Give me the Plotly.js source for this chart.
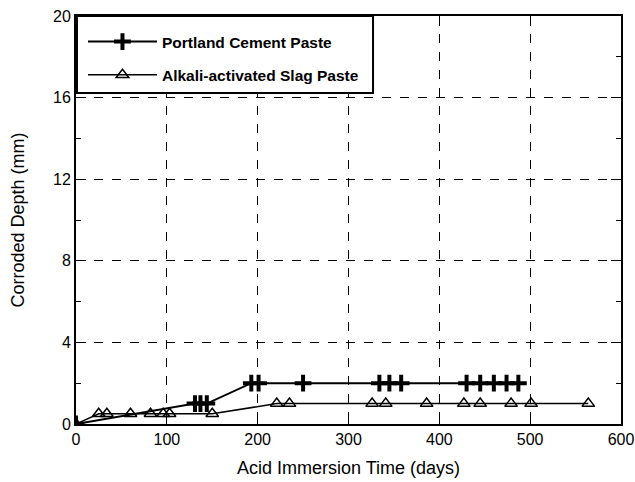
<!DOCTYPE html>
<html>
<head>
<script src="https://cdn.plot.ly/plotly-3.0.1.min.js"></script>
<style>body{margin:0;padding:0;background:#fff;}#chart{width:635px;height:482px;}</style>
</head>
<body>
<div id="chart"></div>
<script>
const portlandDays = [0, 131, 137, 144, 193, 201, 250, 334, 345, 358, 430, 445, 460, 474, 487];
const portlandDepth = [0, 1, 1, 1, 2, 2, 2, 2, 2, 2, 2, 2, 2, 2, 2];
const slagDays = [0, 25, 34, 60, 82, 96, 103, 150, 221, 235, 326, 341, 386, 427, 445, 479, 501, 564];
const slagDepth = [0, 0.5, 0.5, 0.5, 0.5, 0.5, 0.5, 0.5, 1, 1, 1, 1, 1, 1, 1, 1, 1, 1];
const seriesNames = ['Portland Cement Paste', 'Alkali-activated Slag Paste'];
const xTicks = [0, 100, 200, 300, 400, 500, 600];
const yTicks = [0, 4, 8, 12, 16, 20];

const FONT = 'Liberation Sans, Arial, sans-serif';

const traces = [
  {x: portlandDays, y: portlandDepth, name: seriesNames[0], mode: 'lines+markers', legendgroup: 'a',
   line: {color: '#000', width: 2},
   marker: {symbol: 'cross-thin', size: 12, color: '#000', line: {color: '#000', width: 4}}},
  {x: slagDays, y: slagDepth, name: seriesNames[1], mode: 'lines+markers', legendgroup: 'b',
   line: {color: '#000', width: 1.5},
   marker: {symbol: 'triangle-up-open', size: 11, color: '#000', line: {color: '#000', width: 1.5}}}
];

const axisCommon = {
  showline: true, linecolor: '#000', linewidth: 2, mirror: 'ticks',
  showgrid: true, gridcolor: '#000', griddash: 'dash', gridwidth: 1,
  zeroline: false, ticks: 'inside', ticklen: 10, tickwidth: 1, tickcolor: '#000',
  tickfont: {family: FONT, size: 16, color: '#000'}
};

const layout = {
  width: 635, height: 482,
  margin: {l: 76, r: 14, t: 16, b: 58},
  paper_bgcolor: '#fff', plot_bgcolor: '#fff',
  showlegend: true,
  legend: {x: 0.0128, y: 0.978, xanchor: 'left', yanchor: 'top',
    borderwidth: 0, bgcolor: 'rgba(0,0,0,0)',
    font: {family: FONT, size: 15.5, color: '#000', weight: 'bold'},
    itemwidth: 69, tracegroupgap: 10},
  shapes: [
    {type: 'rect', xref: 'paper', yref: 'paper', x0: 0.0018, x1: 0.545, y0: 0.811, y1: 1,
     line: {color: '#000', width: 2}, fillcolor: '#fff', layer: 'above'}
  ],
  xaxis: Object.assign({}, axisCommon, {
    range: [0, 600], tickvals: xTicks,
    title: {text: 'Acid Immersion Time (days)', font: {family: FONT, size: 18, color: '#000'}, standoff: 14}
  }),
  yaxis: Object.assign({}, axisCommon, {
    range: [0, 20], tickvals: yTicks,
    minor: {tickvals: [2, 6, 10, 14, 18], ticks: 'inside', ticklen: 5, tickcolor: '#000', showgrid: false},
    title: {text: 'Corroded Depth (mm)', font: {family: FONT, size: 18, color: '#000'}, standoff: 24}
  })
};

Plotly.newPlot('chart', traces, layout, {displayModeBar: false, staticPlot: true});
</script>
</body>
</html>
